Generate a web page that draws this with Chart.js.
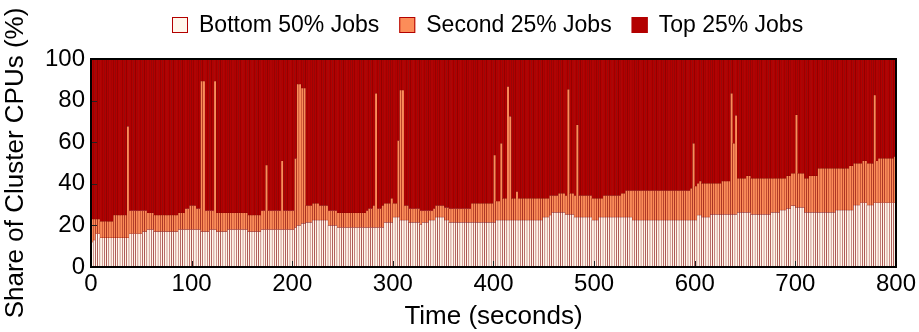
<!DOCTYPE html>
<html><head><meta charset="utf-8">
<script src="https://cdn.jsdelivr.net/npm/chart.js@4.4.1/dist/chart.umd.min.js"></script>
<style>html,body{margin:0;padding:0;background:#fff;}#wrap{width:919px;height:332px;}</style>
</head><body><div id="wrap"><canvas id="c" width="919" height="332"></canvas></div>
<script>
const seriesNames = ['Bottom 50% Jobs', 'Second 25% Jobs', 'Top 25% Jobs'];
const xTicks = [0, 100, 200, 300, 400, 500, 600, 700, 800];
const yTicks = [0, 20, 40, 60, 80, 100];
const xTitle = 'Time (seconds)';
const yTitle = 'Share of Cluster CPUs (%)';

// share of the bottom 50% of jobs, one value per time bar
const bottom = [
12,13,16,16,14,14,14,14,14,14,
14,14,14,14,14,14,14,16,16,16,
16,16,16,17,17,18,18,18,17,17,
17,17,17,17,17,17,17,17,17,18,
18,18,18,18,18,18,18,18,18,17,
17,17,17,18,18,18,17,17,17,17,
17,18,18,18,18,18,18,18,18,18,
17,17,17,17,17,17,18,18,18,18,
18,18,18,18,18,18,18,18,18,18,
18,19,20,20,21,21,21.5,21.5,21.5,22.6,
22.6,22.6,22.6,22.6,22.6,22.6,20,20,20,20,
19,19,19,19,19,19,19,19,19,19,
19,19,19,19,19,19,19,19,19,19,
19,21.5,21.5,21.5,21.5,24,24,24,22.6,22.6,
22.6,22.6,21.5,21.5,21.5,21.5,21.5,20.5,21.5,21.5,
21.5,22.6,22.6,22.6,24,24,24,24,22.6,22.6,
21.5,21.5,21.5,21.5,21.5,21.5,21.5,21.5,21.5,21.5,
21.5,21.5,21.5,21.5,21.5,21.5,21.5,21.5,21.5,21.5,
21.5,22.6,22.6,22.6,22.6,22.6,22.6,22.6,22.6,22.6,
22.6,22.6,22.6,22.6,22.6,22.6,22.6,22.6,22.6,22.6,
22.6,22.6,24,24,24,25,26.3,26.3,26.3,26.3,
26.3,26.3,25.3,25.3,25.3,25.3,24,24,24,24,
24,24,24,24,22.6,22.6,22.6,24,24,24,
24,24,24,24,24,24,24,24,24,24,
24,24,22.6,22.6,22.6,22.6,22.6,22.6,22.6,22.6,
22.6,22.6,22.6,22.6,22.6,22.6,22.6,22.6,22.6,22.6,
22.6,22.6,22.6,22.6,22.6,22.6,22.6,22.6,22.6,22.6,
22.6,25,25,24,24,24,24,25.3,25.3,25.3,
25.3,25.3,25.3,25.3,25.3,25.3,25.3,25.3,25.3,26.3,
26.3,26.3,26.3,26.3,26.3,25.3,25.3,25.3,25.3,25.3,
25.3,25.3,25.3,25.3,26.3,26.3,26.3,26.3,27.4,27.4,
27.4,28.2,28.2,29.5,29.5,28.7,28.7,28.7,28.7,26.3,
26.3,26.3,26.3,26.3,26.3,26.3,26.3,26.3,26.3,26.3,
26.3,26.3,26.3,27.4,27.4,27.4,27.4,27.4,27.4,27.4,
27.4,29.8,29.8,29.8,30.9,30.9,30.9,29.8,29.8,29.8,
30.9,30.9,30.9,30.9,30.9,30.9,30.9,30.9,30.9,30.9
];

// share of the second 25% of jobs
const second = [
11,10,7,7,8,8,8,8,8,8,
11,11,11,11,11,11,53.5,11,11,11,
11,11,11,10,10,8,8,8,8,8,
8,8,8,8,8,8,8,8,8,8,
8,8,10,10,11.5,11.5,11.5,10,10,72.4,
72.4,10,10,9,9,71.4,9,9,9,9,
9,8,8,8,8,8,8,8,8,8,
8,8,8,8,8,8,9,9,31,9,
9,9,9,9,9,33,9,9,9,9,
9,33,68,68,65,65,8,8,8,8,
8,8,6.9,6.9,6.9,6.9,7,7,7,7,
7,7,7,7,7,7,7,7,7,7,
7,7,7,8,9,9,10.5,64.5,9,9,
10.5,9.1,9.1,9.1,11.5,6.6,6.6,36.7,62.4,62.4,
6.9,6.9,6.5,6.5,6.5,6.5,6.5,6.5,5.5,5.5,
5.5,4.4,4.4,5.4,5.5,5.5,5.5,5.5,5.9,5.9,
6.5,6.5,6.5,6.5,6.5,6.5,6.5,6.5,6.5,6.5,
9.1,9.1,9.1,9.1,9.1,9.1,9.1,9.1,9.1,9.1,
32.3,9.1,9.1,36.9,10.4,10.4,64.1,49.7,10.4,10.4,
13.6,10.4,10.4,10.4,10.4,10.4,10.4,10.4,10.4,10.4,
10.4,10.4,9,9,9,9.3,8,8,8,9.1,
9.1,9.1,9,60.1,10.1,10.1,10.3,44.3,10.3,10.3,
10.3,10.3,10.3,10.3,10.4,10.4,10.4,9,9,10.3,
10.3,10.3,10.3,10.3,10.3,10.3,10.3,11.4,11.4,12.7,
12.7,12.7,14.1,14.1,14.1,14.1,14.1,14.1,14.1,14.1,
14.1,14.1,14.1,14.1,14.1,14.1,14.1,14.1,14.1,14.1,
14.1,14.1,14.1,14.1,14.1,14.1,14.1,14.1,15.2,36.9,
16.3,15.2,16.3,16.2,16.2,16.2,16.2,14.9,14.9,14.9,
14.9,14.9,16,16,16,16,58.2,34.2,47.5,16.3,
16.3,16.3,16.3,17.5,17.5,17.3,17.3,17.3,17.3,17.3,
17.3,17.3,17.3,17.3,16.3,16.3,16.3,16.3,15.2,15.2,
15.2,15.6,15.6,15.5,15.5,44.4,16.3,16.3,16.3,16.3,
16.3,17.5,17.5,17.5,17.5,21.1,21.1,21.1,21.1,21.1,
21.1,21.1,21.1,20,20,20,20,20,20,21.2,
21.2,20,20,20,18.9,20.1,20.1,20,20,20,
51.8,20.1,21.3,21.3,21.3,21.3,21.3,21.3,21.3,22.1
];

// the top 25% of jobs hold the remainder of the cluster
const topShare = bottom.map((b, i) => +(100 - b - second[i]).toFixed(1));
// sample times (bar centres), evenly spaced over the 800 s window
const times = bottom.map((_, i) => (i + 0.5) * 800 / bottom.length);

const colors = ['#fff7ec', '#fc8d59', '#b30000'];
const edge = '#7f0000';
const FONT = '"Liberation Sans", Arial, Helvetica, sans-serif';

function mk(arr) { return arr.map((v, i) => ({ x: times[i], y: v })); }

const frame = {
  id: 'frame',
  afterDatasetsDraw(chart) {
    const ctx = chart.ctx, ca = chart.chartArea;
    const xs = chart.scales.x, ys = chart.scales.y;
    ctx.save();
    ctx.strokeStyle = '#222';
    ctx.lineWidth = 1;
    ctx.beginPath();
    yTicks.forEach(v => { const p = Math.round(ys.getPixelForValue(v)) + 0.5; ctx.moveTo(ca.left, p); ctx.lineTo(ca.left + 6, p); });
    xTicks.forEach(v => { const p = Math.round(xs.getPixelForValue(v)) + 0.5; ctx.moveTo(p, ca.bottom); ctx.lineTo(p, ca.bottom - 6); });
    ctx.stroke();
    ctx.strokeStyle = '#000';
    ctx.lineWidth = 2;
    ctx.strokeRect(ca.left, ca.top, ca.right - ca.left, ca.bottom - ca.top);
    ctx.restore();
  },
  afterDraw(chart) {
    const ctx = chart.ctx;
    ctx.save();
    ctx.font = '23px ' + FONT;
    ctx.textBaseline = 'middle';
    const box = 16, gapT = 11, gapI = 20;
    const widths = seriesNames.map(s => ctx.measureText(s).width);
    let x = 172;
    const cy = 25;
    seriesNames.forEach((s, i) => {
      ctx.fillStyle = colors[i];
      ctx.fillRect(x, cy - box / 2, box, box);
      ctx.strokeStyle = '#b30000';
      ctx.lineWidth = 1;
      ctx.strokeRect(x + 0.5, cy - box / 2 + 0.5, box - 1, box - 1);
      ctx.fillStyle = '#000';
      ctx.fillText(s, x + box + gapT, cy + 1);
      x += box + gapT + widths[i] + gapI;
    });
    ctx.restore();
  }
};

const common = { borderColor: edge, borderWidth: 0.5, barPercentage: 1, categoryPercentage: 1, borderSkipped: 'start' };

new Chart(document.getElementById('c'), {
  type: 'bar',
  data: {
    datasets: [
      Object.assign({ label: seriesNames[0], data: mk(bottom), backgroundColor: colors[0] }, common),
      Object.assign({ label: seriesNames[1], data: mk(second), backgroundColor: colors[1] }, common),
      Object.assign({ label: seriesNames[2], data: mk(topShare), backgroundColor: colors[2] }, common)
    ]
  },
  options: {
    responsive: false,
    animation: false,
    devicePixelRatio: 1,
    layout: { padding: { top: 59, right: 22, left: 0, bottom: 0 } },
    plugins: { legend: { display: false }, tooltip: { enabled: false } },
    scales: {
      x: {
        type: 'linear', stacked: true, offset: false, min: 0, max: 800,
        afterBuildTicks: s => { s.ticks = xTicks.map(v => ({ value: v })); },
        grid: { display: false, drawTicks: false }, border: { display: false },
        ticks: { color: '#000', font: { family: FONT, size: 24 }, padding: 3, maxRotation: 0, autoSkip: false },
        title: { display: true, text: xTitle, color: '#000', font: { family: FONT, size: 26 }, padding: { top: 0, bottom: 0 } },
        afterFit: s => { s.height = 65; }
      },
      y: {
        stacked: true, min: 0, max: 100,
        afterBuildTicks: s => { s.ticks = yTicks.map(v => ({ value: v })); },
        grid: { display: false, drawTicks: false }, border: { display: false },
        ticks: { color: '#000', font: { family: FONT, size: 24 }, padding: 6 },
        title: { display: true, text: yTitle, color: '#000', font: { family: FONT, size: 26 }, padding: { top: 0, bottom: 0 } },
        afterFit: s => { s.width = 91; }
      }
    }
  },
  plugins: [frame]
});
</script></body></html>
